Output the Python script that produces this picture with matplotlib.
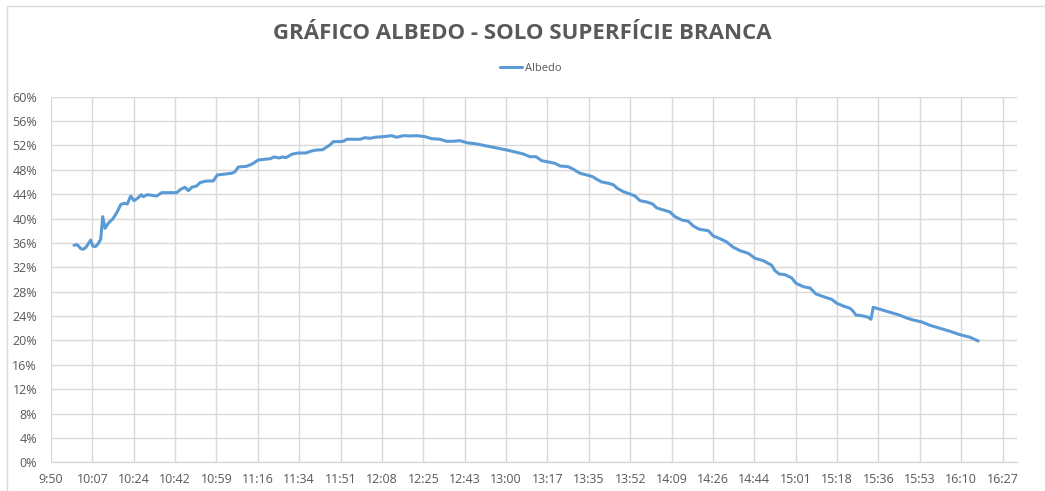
"""
Albedo line chart for the white-surface soil measurements.
"""

import matplotlib
matplotlib.use("Agg")
import matplotlib.pyplot as plt
import numpy as np
import pandas as pd
from matplotlib.patches import Rectangle
from matplotlib.ticker import FuncFormatter

TITLE = "GRÁFICO ALBEDO - SOLO SUPERFÍCIE BRANCA"
SERIES_NAME = "Albedo"

# measurement times (h:mm:ss)
times = [
    "09:59:36", "10:00:58", "10:02:23", "10:03:28", "10:04:36", "10:06:34",
    "10:07:24", "10:08:29", "10:09:36", "10:10:44", "10:11:34", "10:12:32",
    "10:13:54", "10:15:59", "10:17:40", "10:19:05", "10:20:27", "10:21:50",
    "10:23:15", "10:24:37", "10:26:18", "10:27:40", "10:28:30", "10:30:10",
    "10:32:00", "10:34:06", "10:36:11", "10:39:39", "10:42:26", "10:44:06",
    "10:45:54", "10:47:17", "10:48:42", "10:50:47", "10:52:10", "10:54:15",
    "10:56:02", "10:57:42", "10:59:23", "11:01:53", "11:05:23", "11:06:46",
    "11:08:08", "11:11:38", "11:13:44", "11:16:29", "11:19:16", "11:21:39",
    "11:23:02", "11:25:14", "11:26:40", "11:28:02", "11:30:25", "11:33:10",
    "11:36:23", "11:38:45", "11:40:50", "11:43:21", "11:45:01", "11:46:23",
    "11:47:46", "11:50:34", "11:52:14", "11:53:21", "11:56:07", "11:58:54",
    "12:00:59", "12:03:05", "12:05:10", "12:08:37", "12:12:08", "12:14:13",
    "12:16:58", "12:19:46", "12:22:34", "12:26:01", "12:28:49", "12:32:17",
    "12:35:04", "12:37:50", "12:40:37", "12:43:25", "12:47:35", "12:51:46",
    "12:55:56", "13:00:06", "13:03:34", "13:07:02", "13:09:49", "13:12:20",
    "13:14:42", "13:17:27", "13:20:15", "13:22:20", "13:25:48", "13:27:53",
    "13:30:41", "13:33:29", "13:35:59", "13:37:39", "13:39:44", "13:42:29",
    "13:44:34", "13:46:15", "13:48:45", "13:51:32", "13:53:38", "13:55:43",
    "13:58:30", "14:01:01", "14:02:41", "14:05:26", "14:08:14", "14:10:19",
    "14:13:06", "14:15:52", "14:17:57", "14:20:27", "14:24:12", "14:26:17",
    "14:29:05", "14:31:53", "14:34:38", "14:37:26", "14:40:53", "14:43:41",
    "14:47:09", "14:50:39", "14:52:02", "14:53:49", "14:56:12", "14:59:00",
    "15:00:47", "15:03:50", "15:06:38", "15:09:08", "15:11:31", "15:13:51",
    "15:15:41", "15:17:46", "15:20:31", "15:23:19", "15:24:27", "15:25:49",
    "15:28:52", "15:30:57", "15:32:05", "15:33:02", "15:35:50", "15:38:38",
    "15:41:23", "15:44:10", "15:46:58", "15:49:43", "15:53:14", "15:56:41",
    "16:00:52", "16:05:02", "16:09:12", "16:13:23", "16:16:50",
]

# albedo in percent
albedo = [
    35.61, 35.71, 35.06, 34.96, 35.29, 36.48,
    35.50, 35.38, 35.83, 36.60, 40.31, 38.40,
    39.22, 40.05, 41.13, 42.28, 42.51, 42.39,
    43.70, 42.93, 43.38, 43.92, 43.59, 43.92,
    43.82, 43.70, 44.25, 44.25, 44.25, 44.80,
    45.13, 44.57, 45.13, 45.35, 45.89, 46.12,
    46.17, 46.17, 47.15, 47.27, 47.43, 47.69,
    48.46, 48.58, 48.91, 49.61, 49.73, 49.83,
    50.11, 49.94, 50.11, 49.99, 50.55, 50.76,
    50.76, 51.09, 51.25, 51.30, 51.75, 52.08,
    52.62, 52.62, 52.73, 53.01, 53.01, 53.01,
    53.27, 53.17, 53.34, 53.44, 53.60, 53.34,
    53.60, 53.55, 53.60, 53.44, 53.11, 53.01,
    52.68, 52.68, 52.78, 52.45, 52.24, 51.91,
    51.58, 51.25, 50.93, 50.60, 50.15, 50.15,
    49.50, 49.29, 49.07, 48.63, 48.51, 48.09,
    47.43, 47.15, 46.87, 46.45, 46.00, 45.79,
    45.56, 44.97, 44.41, 44.03, 43.70, 42.93,
    42.72, 42.39, 41.74, 41.41, 41.08, 40.31,
    39.77, 39.55, 38.78, 38.24, 38.01, 37.14,
    36.70, 36.16, 35.29, 34.73, 34.30, 33.48,
    33.09, 32.33, 31.45, 30.90, 30.79, 30.25,
    29.38, 28.82, 28.61, 27.62, 27.29, 26.96,
    26.75, 26.10, 25.65, 25.27, 24.88, 24.17,
    24.01, 23.80, 23.47, 25.44, 25.11, 24.78,
    24.45, 24.13, 23.68, 23.35, 23.03, 22.48,
    21.99, 21.50, 20.94, 20.52, 19.91,
]

x_tick_labels = [
    "9:50", "10:07", "10:24", "10:42", "10:59", "11:16", "11:34", "11:51",
    "12:08", "12:25", "12:43", "13:00", "13:17", "13:35", "13:52", "14:09",
    "14:26", "14:44", "15:01", "15:18", "15:36", "15:53", "16:10", "16:27",
]
y_ticks = [0, 4, 8, 12, 16, 20, 24, 28, 32, 36, 40, 44, 48, 52, 56, 60]

BLUE = "#5B9BD5"
GRID = "#D9D9D9"
TEXT = "#595959"
FONT = ["Open Sans", "DejaVu Sans"]


def to_minutes(values):
    td = pd.to_timedelta(values)
    return td.total_seconds().to_numpy() / 60.0


def main():
    plt.rcParams["font.family"] = FONT

    fig = plt.figure(figsize=(10.45, 4.91), dpi=100)
    ax = fig.add_axes([0.0488, 0.0585, 0.9241, 0.7446])

    # chart area border
    fig.patches.append(Rectangle((7 / 1045, -0.1), 1.2, 1.1 - 6 / 491,
                                 transform=fig.transFigure, fill=False,
                                 edgecolor=GRID, linewidth=1.0))

    x = to_minutes(times)
    line, = ax.plot(x, albedo, color=BLUE, linewidth=2.2,
                    solid_joinstyle="round", solid_capstyle="round")

    tick_pos = np.linspace(to_minutes(["09:50:00"])[0],
                           to_minutes(["16:27:00"])[0], len(x_tick_labels))
    step = tick_pos[1] - tick_pos[0]
    ax.set_xlim(tick_pos[0], tick_pos[-1] + 0.34 * step)
    ax.set_xticks(tick_pos)
    ax.set_xticklabels(x_tick_labels)

    ax.set_ylim(0, 60)
    ax.set_yticks(y_ticks)
    ax.yaxis.set_major_formatter(FuncFormatter(lambda v, _: f"{v:.0f}%"))

    ax.grid(True, color=GRID, linewidth=1.0)
    ax.set_axisbelow(True)
    for side in ("left", "right", "top"):
        ax.spines[side].set_visible(False)
    ax.spines["bottom"].set_color(GRID)
    ax.spines["bottom"].set_linewidth(1.0)
    ax.tick_params(length=0, labelsize=9, colors=TEXT, pad=8)
    ax.tick_params(axis="y", pad=10)

    fig.text(0.5, 0.932, TITLE, ha="center", va="center", fontsize=16,
             fontweight="bold", color=TEXT)
    fig.legend([line], [SERIES_NAME], loc="center", bbox_to_anchor=(0.508, 0.86),
               frameon=False, fontsize=8, handlelength=2.0, handletextpad=0.3,
               labelcolor=TEXT)

    fig.savefig("out.png", dpi=100, facecolor="white")


if __name__ == "__main__":
    main()
